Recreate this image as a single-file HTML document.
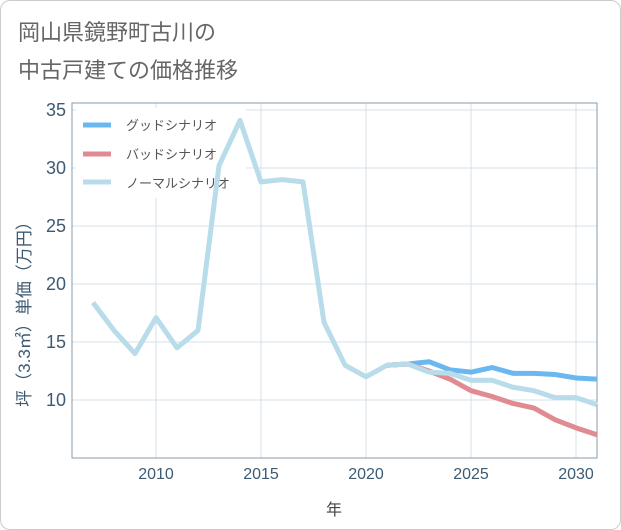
<!DOCTYPE html>
<html><head><meta charset="utf-8"><style>
body{margin:0;background:#fff;}
.card{position:absolute;left:0;top:0;width:619px;height:528px;border:1px solid #ccc;border-radius:10px;background:#fff;}
svg{position:absolute;left:0;top:0;font-family:"Liberation Sans","Noto Sans CJK JP",sans-serif;}
</style></head><body>
<div class="card"></div>
<svg width="621" height="530" id="chart">
<text x="18" y="40" font-size="22" fill="#666">岡山県鏡野町古川の</text>
<text x="18" y="78" font-size="22" fill="#666">中古戸建ての価格推移</text>
<g id="grid"></g>
<rect x="72" y="103" width="525" height="355" fill="none" stroke="#8a9aa8" stroke-width="1"/>
<g>
<rect x="76" y="108" width="170" height="90" fill="#fff"/>
<line x1="83" y1="125" x2="111" y2="125" stroke="#6bb8f0" stroke-width="5"/>
<text x="126" y="130" font-size="13" fill="#555">グッドシナリオ</text>
<line x1="83" y1="154" x2="111" y2="154" stroke="#e08a92" stroke-width="5"/>
<text x="126" y="159" font-size="13" fill="#555">バッドシナリオ</text>
<line x1="83" y1="182" x2="111" y2="182" stroke="#b8dcea" stroke-width="5"/>
<text x="126" y="188" font-size="13" fill="#555">ノーマルシナリオ</text>
</g>
<g id="series"></g>
<g id="ticks"></g>
<text x="334" y="515" font-size="16" fill="#444" text-anchor="middle">年</text>
<text transform="translate(30,310) rotate(-90)" font-size="17" fill="#3d5a73" text-anchor="middle">坪（3.3㎡）単価（万円）</text>
</svg>
<script>
const xTicks=[2010,2015,2020,2025,2030];
const yTicks=[10,15,20,25,30,35];
const normalYears=[2007,2008,2009,2010,2011,2012,2013,2014,2015,2016,2017,2018,2019,2020,2021,2022,2023,2024,2025,2026,2027,2028,2029,2030,2031];
const normalVals=[18.4,16.0,14.0,17.1,14.5,16.0,30.2,34.1,28.8,29.0,28.8,16.7,13.0,12.0,13.0,13.1,12.4,12.3,11.7,11.7,11.1,10.8,10.2,10.2,9.6];
const forecastYears=[2021,2022,2023,2024,2025,2026,2027,2028,2029,2030,2031];
const goodVals=[13.0,13.1,13.3,12.6,12.4,12.8,12.3,12.3,12.2,11.9,11.8];
const badVals=[13.0,13.1,12.5,11.8,10.8,10.3,9.7,9.3,8.3,7.6,7.0];
const NS="http://www.w3.org/2000/svg";
const xs=y=>156+(y-2010)*21;
const ys=v=>400-(v-10)*11.6;
const grid=document.getElementById('grid'),tk=document.getElementById('ticks'),se=document.getElementById('series');
function mk(tag,at,parent){const e=document.createElementNS(NS,tag);for(const k in at)e.setAttribute(k,at[k]);parent.appendChild(e);return e;}
xTicks.forEach(t=>{
 const l=mk('line',{x1:xs(t),x2:xs(t),y1:103,y2:458,stroke:'#d6e0e8','stroke-width':1},grid);
 
 
 const tx=mk('text',{x:xs(t),y:479,'font-size':16,fill:'#3d5a73','text-anchor':'middle'},tk);
 tx.textContent=t;
 
 
});
yTicks.forEach(t=>{
 const l=mk('line',{x1:72,x2:597,y1:ys(t),y2:ys(t),stroke:'#d6e0e8','stroke-width':1},grid);
 
 
 const tx=mk('text',{x:66,y:ys(t)+6,'font-size':18,fill:'#3d5a73','text-anchor':'end'},tk);
 tx.textContent=t;
 
 
});
function line(years,vals,color,name){
 const p=mk('polyline',{points:years.map((y,i)=>xs(y)+','+ys(vals[i])).join(' '),fill:'none',stroke:color,'stroke-width':5,'stroke-linejoin':'round'},se);
 
 
}
line(forecastYears,goodVals,'#6bb8f0','series-good');
line(forecastYears,badVals,'#e08a92','series-bad');
line(normalYears,normalVals,'#b8dcea','series-normal');
</script>
</body></html>
